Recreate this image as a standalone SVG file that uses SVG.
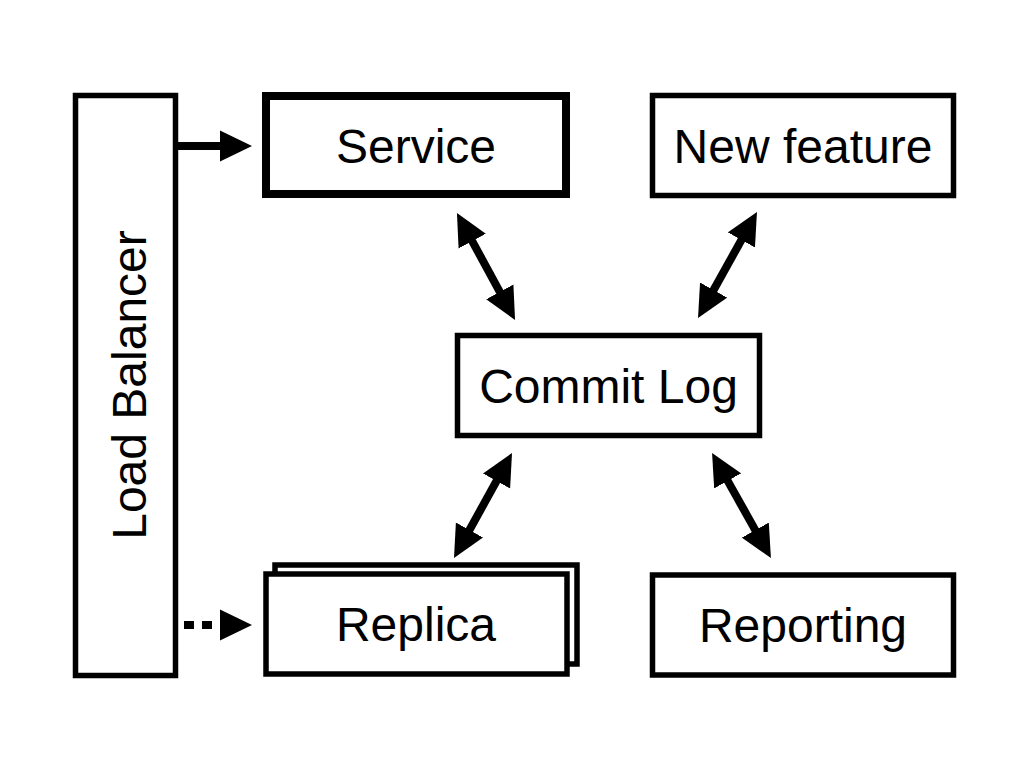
<svg xmlns="http://www.w3.org/2000/svg" width="1024" height="770" viewBox="0 0 1024 770">
<style>
.box{fill:#fff;stroke:#000;stroke-width:5.5}
.thick{stroke-width:8}
.lbl{font-family:"Liberation Sans",Arial,sans-serif;font-size:48px;fill:#000;text-anchor:middle}
.conn{stroke:#000;stroke-width:8;fill:none}
</style>
<defs>
<marker id="ah" markerUnits="userSpaceOnUse" markerWidth="32" markerHeight="32" viewBox="0 0 32 32" refX="8" refY="16" orient="auto-start-reverse">
<path d="M0,0.5 L32,16 L0,31.5 z" fill="#000"/>
</marker>
</defs>
<rect width="1024" height="770" fill="#fff"/>
<g id="load-balancer">
<rect class="box" x="75.5" y="95.5" width="100" height="580"/>
<text class="lbl" transform="translate(146,385) rotate(-90)">Load Balancer</text>
</g>
<g id="service">
<rect class="box thick" x="266" y="96" width="300" height="98"/>
<text class="lbl" x="416" y="163">Service</text>
</g>
<g id="new-feature">
<rect class="box" x="652.5" y="95.5" width="301" height="100"/>
<text class="lbl" x="803" y="163">New feature</text>
</g>
<g id="commit-log">
<rect class="box" x="457.5" y="335.5" width="302" height="100"/>
<text class="lbl" x="608.5" y="403">Commit Log</text>
</g>
<g id="replica">
<rect class="box" x="275" y="565" width="302" height="99"/>
<rect class="box" x="266" y="574" width="301" height="100"/>
<text class="lbl" x="416" y="641">Replica</text>
</g>
<g id="reporting">
<rect class="box" x="652.5" y="575" width="301" height="100"/>
<text class="lbl" x="803" y="642">Reporting</text>
</g>
<g id="connectors">
<line class="conn" x1="178" y1="146" x2="228" y2="146" marker-end="url(#ah)"/>
<line class="conn" x1="184" y1="625" x2="228" y2="625" stroke-width="10" stroke-dasharray="10 8" marker-end="url(#ah)"/>
<line class="conn" x1="468.4" y1="234.1" x2="503.6" y2="298.9" marker-start="url(#ah)" marker-end="url(#ah)"/>
<line class="conn" x1="745.3" y1="233" x2="709.7" y2="297" marker-start="url(#ah)" marker-end="url(#ah)"/>
<line class="conn" x1="500.4" y1="474" x2="465.6" y2="537" marker-start="url(#ah)" marker-end="url(#ah)"/>
<line class="conn" x1="723.8" y1="473.9" x2="759.2" y2="537.1" marker-start="url(#ah)" marker-end="url(#ah)"/>
</g>
</svg>
